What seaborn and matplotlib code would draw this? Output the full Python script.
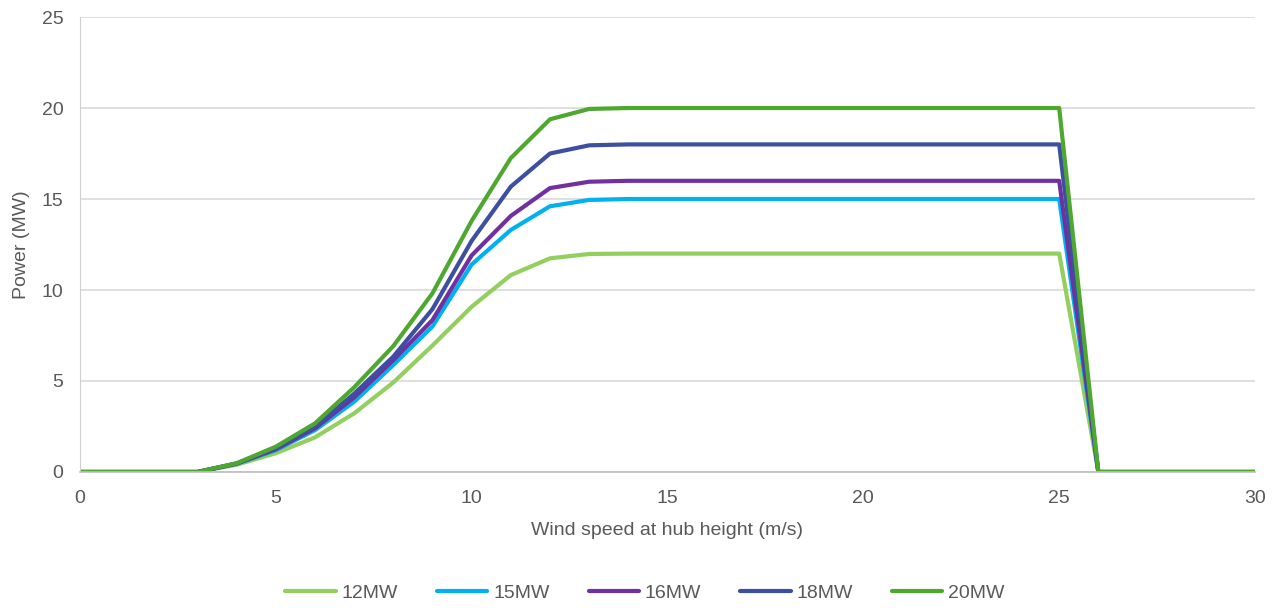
import numpy as np
import pandas as pd
import matplotlib
matplotlib.use("Agg")
import matplotlib.pyplot as plt
import seaborn as sns

# wind speed (m/s)
wind = list(range(0, 31))
# power curves (MW)
p12 = [0, 0, 0, 0, 0.40, 1.03, 1.90, 3.22, 4.92, 6.95, 9.08, 10.82, 11.74, 11.98] + [12] * 12 + [0] * 5
p15 = [0, 0, 0, 0, 0.45, 1.20, 2.30, 3.86, 5.88, 8.00, 11.40, 13.30, 14.60, 14.95] + [15] * 12 + [0] * 5
p16 = [0, 0, 0, 0, 0.46, 1.25, 2.40, 4.10, 6.15, 8.35, 11.90, 14.07, 15.60, 15.95] + [16] * 12 + [0] * 5
p18 = [0, 0, 0, 0, 0.47, 1.30, 2.49, 4.30, 6.34, 8.95, 12.70, 15.68, 17.50, 17.95] + [18] * 12 + [0] * 5
p20 = [0, 0, 0, 0, 0.48, 1.39, 2.67, 4.65, 6.92, 9.82, 13.80, 17.25, 19.38, 19.95] + [20] * 12 + [0] * 5
names = ["12MW", "15MW", "16MW", "18MW", "20MW"]
colors = ["#92cf5e", "#00b0f0", "#7030a0", "#3c4fa0", "#4ea72e"]

df = pd.DataFrame({"wind": wind, "12MW": p12, "15MW": p15, "16MW": p16,
                   "18MW": p18, "20MW": p20})
long = df.melt(id_vars="wind", var_name="turbine", value_name="power")

sns.set_style("white")
plt.rcParams["font.family"] = ["Liberation Sans", "DejaVu Sans"]
txt = "#595959"

fig = plt.figure(figsize=(12.77, 6.08), dpi=100)
ax = fig.add_axes([0.0626, 0.2237, 0.9202, 0.7483])
sns.lineplot(data=long, x="wind", y="power", hue="turbine", hue_order=names,
             palette=colors, linewidth=3, ax=ax)

ax.set_xlim(0, 30)
ax.set_ylim(0, 25)
ax.set_xticks(range(0, 31, 5))
ax.set_yticks(range(0, 26, 5))
ax.yaxis.grid(True, color="#d9d9d9", linewidth=1.2)
ax.set_axisbelow(True)
for s in ["top", "right"]:
    ax.spines[s].set_visible(False)
ax.spines["left"].set_color("#d0d0d0")
ax.spines["bottom"].set_color("#bfbfbf")
ax.spines["bottom"].set_linewidth(1.2)
ax.tick_params(axis="y", length=0, labelsize=14, colors=txt, pad=12)
ax.tick_params(axis="x", length=0, labelsize=14, colors=txt, pad=13)
ax.set_xlabel("Wind speed at hub height (m/s)", fontsize=14, color=txt, labelpad=11)
ax.set_ylabel("Power (MW)", fontsize=14, color=txt, labelpad=8)

ax.get_legend().remove()
handles, labels = ax.get_legend_handles_labels()
fig.legend(handles, labels, loc="center", bbox_to_anchor=(0.505, 0.025), ncol=5,
           frameon=False, fontsize=14, labelcolor=txt, handlelength=2.6,
           handletextpad=0.3, columnspacing=2.0)

fig.savefig("out.png", dpi=100)
